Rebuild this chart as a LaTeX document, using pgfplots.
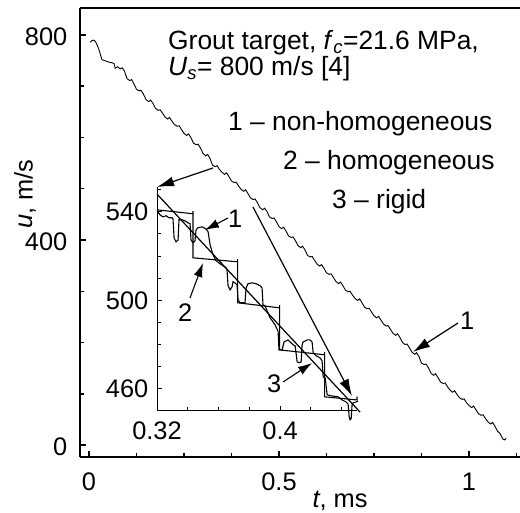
\documentclass[border=0pt]{standalone}
\usepackage{fontspec}
\setmainfont{Liberation Sans}
\usepackage{pgfplots}
\pgfplotsset{compat=1.18}
\usetikzlibrary{arrows.meta}

\begin{document}
\fontsize{25.5}{30}\selectfont
\begin{tikzpicture}[x=1bp,y=1bp]
\begin{axis}[
  name=main, at={(0bp,0bp)}, anchor=south west,
  scale only axis, width=440bp, height=449bp,
  xmin=-0.0237, xmax=1.1342, ymin=-23.4, ymax=852.7,
  axis x line*=bottom, axis y line*=left,
  axis line style={-, line width=1.8bp},
  xtick={0,0.5,1}, xticklabels={0,0.5,1},
  minor xtick={0.125,0.25,0.375,0.625,0.75,0.875,1.125},
  ytick={0,400,800}, yticklabels={0,400,800},
  minor ytick={100,200,300,500,600,700},
  tick align=inside,
  major tick length=6bp, minor tick length=4bp,
  every tick/.style={black, line width=1.5bp},
  tick label style={font=\fontsize{25.5}{30}\selectfont},
  xticklabel style={yshift=-7bp},
  yticklabel style={xshift=-4bp, yshift=-2bp},
  /pgf/number format/assume math mode=true,
  xlabel={\textit{t}, ms}, ylabel={\textit{u}, m/s},
  xlabel style={at={(rel axis cs:0.591,0)}, anchor=base, yshift=-50bp},
  ylabel style={at={(rel axis cs:-0.125,0.585)}, anchor=center},
  clip=false,
]
\addplot[black, line width=0.9bp] coordinates {
(0.003,786)(0.008,789)(0.012,790)(0.016,788)(0.020,783)(0.026,772)(0.030,762)(0.034,752)(0.037,751)
(0.045,749)(0.052,747)(0.060,746)(0.066,744)(0.069,735)
(0.075,738)(0.082,734)(0.087,736)(0.093,730)
(0.100,715)(0.107,711)(0.112,713)(0.118,705)
(0.125,694)(0.132,691)(0.137,692)(0.143,685)
(0.150,674)(0.157,670)(0.162,673)(0.168,667)
(0.175,657)(0.182,653)(0.187,654)(0.193,648)
(0.200,640)(0.207,636)(0.212,639)(0.218,632)
(0.225,625)(0.232,622)(0.237,623)(0.243,616)
(0.250,608)(0.257,604)(0.262,607)(0.268,600)
(0.275,589)(0.282,586)(0.287,587)(0.293,580)
(0.300,569)(0.307,564)(0.312,567)(0.318,560)
(0.325,546)(0.332,543)(0.337,545)(0.343,538)
(0.350,532)(0.357,528)(0.362,531)(0.368,524)
(0.375,515)(0.382,512)(0.387,513)(0.393,506)
(0.400,499)(0.407,495)(0.412,498)(0.418,491)
(0.425,482)(0.432,479)(0.437,480)(0.443,473)
(0.450,463)(0.457,459)(0.462,462)(0.468,456)
(0.475,445)(0.482,442)(0.487,443)(0.493,436)
(0.500,426)(0.507,422)(0.512,425)(0.518,418)
(0.525,408)(0.532,405)(0.537,406)(0.543,399)
(0.550,389)(0.557,385)(0.562,388)(0.568,381)
(0.575,370)(0.582,367)(0.587,368)(0.593,361)
(0.600,353)(0.607,349)(0.612,352)(0.618,345)
(0.625,336)(0.632,333)(0.637,334)(0.643,327)
(0.650,319)(0.657,315)(0.662,318)(0.668,311)
(0.675,302)(0.682,299)(0.687,300)(0.693,293)
(0.700,286)(0.707,282)(0.712,285)(0.718,278)
(0.725,269)(0.732,266)(0.737,267)(0.743,260)
(0.750,252)(0.757,248)(0.762,251)(0.768,244)
(0.775,236)(0.782,232)(0.787,233)(0.793,226)
(0.800,218)(0.807,214)(0.812,217)(0.818,210)
(0.825,200)(0.832,196)(0.837,197)(0.843,190)
(0.850,181)(0.857,177)(0.862,180)(0.868,173)
(0.875,160)(0.882,157)(0.887,158)(0.893,151)
(0.900,140)(0.907,136)(0.912,139)(0.918,132)
(0.925,123)(0.932,120)(0.937,121)(0.943,114)
(0.950,107)(0.957,103)(0.962,106)(0.968,99)
(0.975,92)(0.982,89)(0.987,90)(0.993,83)
(1.000,77)(1.007,73)(1.012,76)(1.018,69)
(1.025,61)(1.032,58)(1.037,59)(1.043,52)
(1.050,45)(1.057,41)(1.062,44)(1.068,37)
(1.075,27)(1.082,22)(1.086,16)(1.090,11)(1.094,10)(1.098,13)
};
\end{axis}
\draw[line width=1.8bp] (0,449) -- (440,449);

\begin{axis}[
  name=inset, at={(77bp,46bp)}, anchor=south west,
  scale only axis, width=200bp, height=224bp,
  xmin=0.32, xmax=0.45, ymin=450, ymax=551.2,
  axis x line*=bottom, axis y line*=left,
  axis line style={-, line width=1bp},
  xtick={0.32,0.4}, xticklabels={0.32,0.4},
  minor xtick={0.34,0.36,0.38,0.42,0.44},
  ytick={460,500,540}, yticklabels={460,500,540},
  minor ytick={470,480,490,510,520,530,550},
  tick align=inside,
  major tick length=5bp, minor tick length=3.5bp,
  every tick/.style={black, line width=0.9bp},
  tick label style={font=\fontsize{25.5}{30}\selectfont},
  xticklabel style={yshift=-2.5bp},
  /pgf/number format/assume math mode=true,
  clip=false,
]
\addplot[black, line width=1.2bp] coordinates {(0.32,548)(0.452,449.5)};
\addplot[black, line width=1.1bp] coordinates {
(0.32,540.9)(0.3434,539.1)(0.3434,540.3)(0.3434,519.2)(0.3724,517.4)(0.3724,518.6)(0.3724,498.9)
(0.3997,496.6)(0.3997,497.8)(0.3997,477.6)(0.429,475.4)(0.429,476.6)(0.429,456.4)(0.450,455.0)(0.450,456.5)
};
\addplot[black, line width=1.1bp] coordinates {
(0.3200,540.5)(0.3220,538.6)(0.3239,537.7)(0.3259,538.2)(0.3278,537.3)(0.3298,537.3)(0.3304,536.8)
(0.3311,528.2)(0.3324,526.4)(0.3337,527.3)(0.3343,536.4)(0.3363,536.4)(0.3382,535.9)(0.3402,535.0)
(0.3415,534.6)(0.3421,527.3)(0.3434,526.0)(0.3447,526.9)(0.3454,531.9)(0.3467,532.8)(0.3493,533.2)
(0.3519,532.3)(0.3532,531.0)(0.3545,525.1)(0.3564,520.6)(0.3584,517.9)(0.3610,516.5)(0.3629,515.6)
(0.3649,514.7)(0.3655,513.8)(0.3662,506.6)(0.3675,504.7)(0.3688,506.1)(0.3694,508.4)(0.3707,507.9)
(0.3720,507.0)(0.3727,500.2)(0.3740,498.9)(0.3772,498.9)(0.3779,505.6)(0.3792,507.5)(0.3818,507.9)
(0.3844,507.5)(0.3870,506.6)(0.3883,505.6)(0.3889,498.0)(0.3902,497.5)(0.3935,492.1)(0.3967,489.0)
(0.3987,486.0)(0.3993,477.6)(0.4013,477.6)(0.4026,481.2)(0.4052,482.1)(0.4085,479.9)(0.4098,479.4)
(0.4111,472.2)(0.4124,471.8)(0.4137,472.2)(0.4143,479.9)(0.4150,481.2)(0.4176,482.1)(0.4195,482.1)
(0.4208,481.2)(0.4215,476.3)(0.4234,475.0)(0.4260,474.0)(0.4273,472.7)(0.4280,465.4)(0.4293,465.0)
(0.4306,457.3)(0.4338,456.8)(0.4377,456.4)(0.4403,455.0)(0.4429,454.1)(0.4442,453.2)(0.4449,447.5)
(0.4455,446.0)(0.4462,446.5)(0.4468,452.8)(0.4475,453.7)(0.4494,454.1)(0.4507,454.5)
};
\end{axis}

% annotations (picture coordinates, 1 unit = 1bp)
\begin{scope}[line width=1.2bp, -{Latex[length=17bp,width=10bp]}]
\draw (133,289) -- (77,270);
\draw (173,250) -- (272,61);
\draw (378,134) -- (333,105);
\end{scope}
\begin{scope}[line width=1.1bp, -{Latex[length=14bp,width=9bp]}]
\draw (148,239) -- (125,227);
\draw (110,159) -- (123,194);
\draw (203,75) -- (232,94);
\end{scope}

\begin{scope}[every node/.style={anchor=base west, inner sep=0, font=\fontsize{26.5}{30}\selectfont}]
\node at (88,407) {Grout target, \textit{f}\textsubscript{\textit{c}}=21.6 MPa,};
\node at (88,381) {\textit{U}\textsubscript{\textit{s}}= 800 m/s [4]};
\node at (148,326) {1 -- non-homogeneous};
\node at (203,287) {2 -- homogeneous};
\node at (252,248) {3 -- rigid};
\end{scope}
\begin{scope}[every node/.style={anchor=base west, inner sep=0, font=\fontsize{25.5}{30}\selectfont}]
\node at (148,229) {1};
\node at (98,135) {2};
\node at (187,64) {3};
\node at (380,127) {1};
\end{scope}

\pgfresetboundingbox
\path (-80,-56) rectangle (440,457);
\end{tikzpicture}
\end{document}
